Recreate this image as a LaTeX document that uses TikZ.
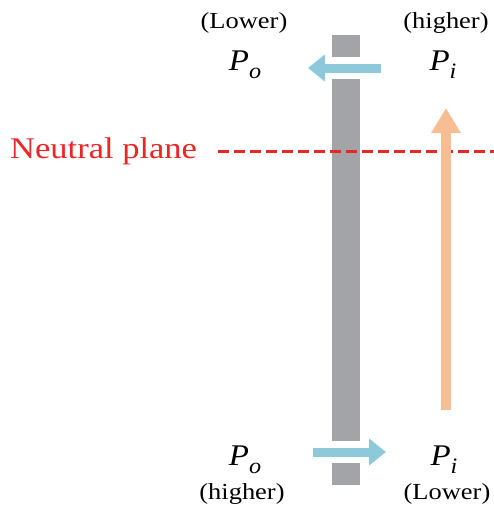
\documentclass[tikz,border=0pt]{standalone}
\usepackage{fontspec}
\setmainfont{Liberation Serif}
\usepackage{xcolor}
\usetikzlibrary{arrows.meta}
\definecolor{wallgray}{RGB}{163,164,168}
\definecolor{flowblue}{RGB}{141,201,219}
\definecolor{stackorange}{RGB}{246,190,146}
\definecolor{planered}{RGB}{236,38,38}
\newcommand{\pvar}[2]{\textit{#1}\raisebox{-8pt}{\fontsize{22}{22}\selectfont\textit{#2}}}

\begin{document}
\begin{tikzpicture}[
    x=1pt, y=-1pt,
    wall_part/.style={fill=wallgray, draw=none},
    flow_arrow/.style={draw=flowblue, line width=9pt, -{Triangle[width=26pt,length=17pt]}},
    stack_arrow/.style={draw=stackorange, line width=10pt, -{Triangle[width=28pt,length=25pt]}},
    side_label/.style={font=\fontsize{23}{26}\selectfont, xscale=1.15, inner sep=0pt, anchor=base},
    press_label/.style={font=\fontsize{30}{34}\selectfont, xscale=1.1, inner sep=0pt, anchor=base},
    plane_label/.style={font=\fontsize{30}{34}\selectfont, xscale=1.15, inner sep=0pt, text=planered, anchor=base west},
    plane_line/.style={draw=planered, line width=3pt, dash pattern=on 11pt off 5pt}
]
\useasboundingbox (0,0) rectangle (494,512);

% wall with two openings
\fill[wall_part] (332,35) rectangle (360,57);
\fill[wall_part] (332,79) rectangle (360,441);
\fill[wall_part] (332,463) rectangle (360,485);

% labels
\node (lo_top)   [side_label]  at (244,28)  {(Lower)};
\node (hi_top)   [side_label]  at (446,28)  {(higher)};
\node (po_top)   [press_label] at (245,70)  {\pvar{P}{o}};
\node (pi_top)   [press_label] at (443,70)  {\pvar{P}{i}};
\node (po_bot)   [press_label] at (245,465) {\pvar{P}{o}};
\node (pi_bot)   [press_label] at (444,465) {\pvar{P}{i}};
\node (hi_bot)   [side_label]  at (242,499) {(higher)};
\node (lo_bot)   [side_label]  at (447,499) {(Lower)};
\node (neutral)  [plane_label] at (10,158)  {Neutral plane};

\coordinate (plane_end)    at (494,151);
\coordinate (top_flow_in)  at (381,68);
\coordinate (top_flow_out) at (308,68);
\coordinate (bot_flow_in)  at (313,452);
\coordinate (bot_flow_out) at (386,452);
\coordinate (stack_in)     at (446,410);
\coordinate (stack_out)    at (446,108);

\draw[plane_line] ([xshift=21pt]neutral.east |- plane_end) -- (plane_end);
\draw[flow_arrow]  (top_flow_in) -- (top_flow_out);
\draw[flow_arrow]  (bot_flow_in) -- (bot_flow_out);
\draw[stack_arrow] (stack_in) -- (stack_out);

\end{tikzpicture}
\end{document}
